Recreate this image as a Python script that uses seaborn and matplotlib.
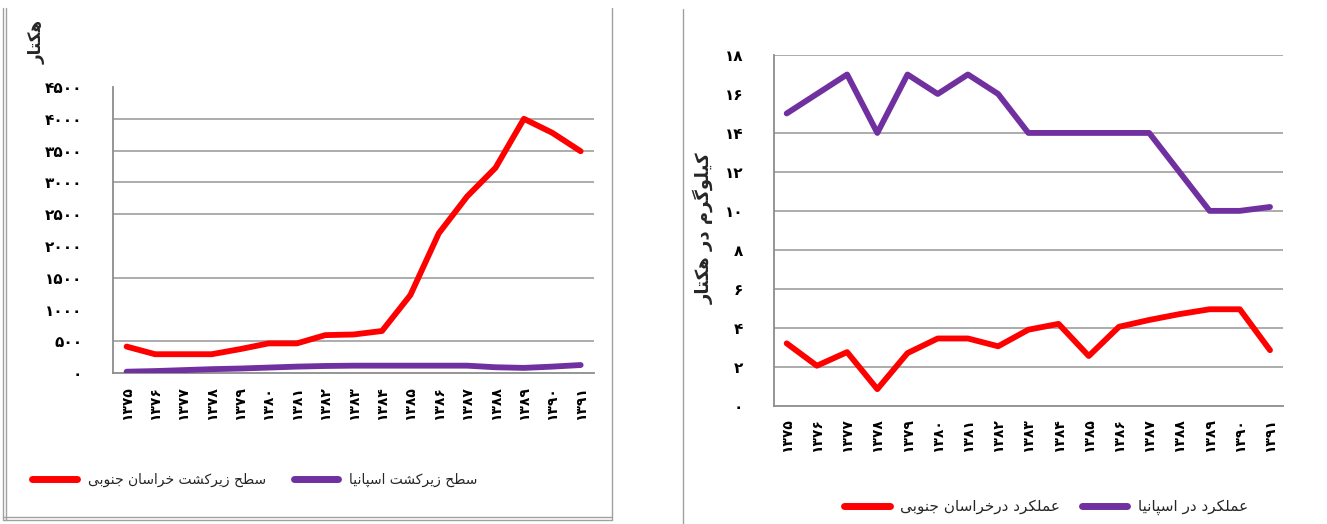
import matplotlib
matplotlib.use("Agg")
import matplotlib.pyplot as plt
import seaborn as sns
import pandas as pd
from matplotlib.lines import Line2D

# ---------------- data ----------------
years = ["۱۳۷۵", "۱۳۷۶", "۱۳۷۷", "۱۳۷۸", "۱۳۷۹", "۱۳۸۰", "۱۳۸۱", "۱۳۸۲", "۱۳۸۳",
         "۱۳۸۴", "۱۳۸۵", "۱۳۸۶", "۱۳۸۷", "۱۳۸۸", "۱۳۸۹", "۱۳۹۰", "۱۳۹۱"]

area_khorasan = [420, 300, 300, 300, 380, 470, 470, 600, 610, 665, 1230, 2200, 2780,
                 3230, 4000, 3780, 3490]
area_spain = [25, 35, 50, 65, 75, 90, 105, 115, 120, 120, 120, 120, 120, 95, 85, 105, 130]

yield_khorasan = [3.2, 2.05, 2.75, 0.85, 2.7, 3.45, 3.45, 3.05, 3.9, 4.2, 2.55, 4.05,
                  4.4, 4.7, 4.95, 4.95, 2.85]
yield_spain = [15, 16, 17, 14, 17, 16, 17, 16, 14, 14, 14, 14, 14, 12, 10, 10, 10.2]

left_ticks = [0, 500, 1000, 1500, 2000, 2500, 3000, 3500, 4000, 4500]
left_ticklabels = ["۰", "۵۰۰", "۱۰۰۰", "۱۵۰۰", "۲۰۰۰", "۲۵۰۰", "۳۰۰۰", "۳۵۰۰", "۴۰۰۰", "۴۵۰۰"]
left_grid = [500, 1500, 2500, 3000, 3500, 4000]

right_ticks = [0, 2, 4, 6, 8, 10, 12, 14, 16, 18]
right_ticklabels = ["۰", "۲", "۴", "۶", "۸", "۱۰", "۱۲", "۱۴", "۱۶", "۱۸"]
right_grid = [2, 4, 6, 8, 10, 12, 14, 18]

lbl_area_kh = "سطح زیرکشت خراسان جنوبی"
lbl_area_sp = "سطح زیرکشت اسپانیا"
lbl_yield_kh = "عملکرد درخراسان جنوبی"
lbl_yield_sp = "عملکرد در اسپانیا"
ylabel_left = "هکتار"
ylabel_right = "کیلوگرم در هکتار"

RED = "#FF0000"
PURPLE = "#7030A0"

# ---------------- minimal Persian shaping (matplotlib has no shaping) ----------------
FORMS = {
    'ا': ('\uFE8D', '\uFE8E', None, None),
    'ب': ('\uFE8F', '\uFE90', '\uFE91', '\uFE92'),
    'پ': ('\uFB56', '\uFB57', '\uFB58', '\uFB59'),
    'ت': ('\uFE95', '\uFE96', '\uFE97', '\uFE98'),
    'ج': ('\uFE9D', '\uFE9E', '\uFE9F', '\uFEA0'),
    'ح': ('\uFEA1', '\uFEA2', '\uFEA3', '\uFEA4'),
    'خ': ('\uFEA5', '\uFEA6', '\uFEA7', '\uFEA8'),
    'د': ('\uFEA9', '\uFEAA', None, None),
    'ر': ('\uFEAD', '\uFEAE', None, None),
    'ز': ('\uFEAF', '\uFEB0', None, None),
    'س': ('\uFEB1', '\uFEB2', '\uFEB3', '\uFEB4'),
    'ش': ('\uFEB5', '\uFEB6', '\uFEB7', '\uFEB8'),
    'ط': ('\uFEC1', '\uFEC2', '\uFEC3', '\uFEC4'),
    'ع': ('\uFEC9', '\uFECA', '\uFECB', '\uFECC'),
    'ک': ('\uFB8E', '\uFB8F', '\uFB90', '\uFB91'),
    'گ': ('\uFB92', '\uFB93', '\uFB94', '\uFB95'),
    'ل': ('\uFEDD', '\uFEDE', '\uFEDF', '\uFEE0'),
    'م': ('\uFEE1', '\uFEE2', '\uFEE3', '\uFEE4'),
    'ن': ('\uFEE5', '\uFEE6', '\uFEE7', '\uFEE8'),
    'ه': ('\uFEE9', '\uFEEA', '\uFEEB', '\uFEEC'),
    'و': ('\uFEED', '\uFEEE', None, None),
    'ی': ('\uFBFC', '\uFBFD', '\uFBFE', '\uFBFF'),
}


def shape(text):
    out = []
    n = len(text)
    for i, ch in enumerate(text):
        if ch not in FORMS:
            out.append(ch)
            continue
        prev = text[i - 1] if i > 0 else None
        nxt = text[i + 1] if i < n - 1 else None
        join_prev = prev in FORMS and FORMS[prev][2] is not None
        join_next = FORMS[ch][2] is not None and nxt in FORMS
        iso, fin, ini, med = FORMS[ch]
        if join_prev and join_next:
            out.append(med)
        elif join_prev:
            out.append(fin)
        elif join_next:
            out.append(ini)
        else:
            out.append(iso)
    return "".join(out)[::-1]


# ---------------- figure ----------------
sns.set_theme(style="white")
plt.rcParams['font.family'] = ['DejaVu Sans']

fig = plt.figure(figsize=(13.27, 5.24), dpi=100)

axL = fig.add_axes([113 / 1327, 1 - 373.3 / 524, (594 - 113) / 1327, (373.3 - 87) / 524])
axR = fig.add_axes([774 / 1327, 1 - 405.7 / 524, (1283 - 774) / 1327, (405.7 - 55) / 524])

idx = list(range(len(years)))
dfL = pd.DataFrame({"i": idx, "kh": area_khorasan, "sp": area_spain})
dfR = pd.DataFrame({"i": idx, "kh": yield_khorasan, "sp": yield_spain})

for ax, df, grid, ticks, tlabels, ylim, xlim in [
    (axL, dfL, left_grid, left_ticks, left_ticklabels, (0, 4500), (-0.48, 16.47)),
    (axR, dfR, right_grid, right_ticks, right_ticklabels, (0, 18), (-0.42, 16.43)),
]:
    for g in grid:
        ax.axhline(g, color="#a6a6a6", lw=1.3, zorder=0)
    sns.lineplot(data=df, x="i", y="sp", ax=ax, color=PURPLE, lw=4.2,
                 solid_capstyle="round", solid_joinstyle="round", zorder=3)
    sns.lineplot(data=df, x="i", y="kh", ax=ax, color=RED, lw=4.2,
                 solid_capstyle="round", solid_joinstyle="round", zorder=4)
    ax.set_xlim(*xlim)
    ax.set_ylim(*ylim)
    ax.set_yticks(ticks)
    ax.set_yticklabels(tlabels, fontsize=11, fontweight="bold")
    ax.set_xticks(idx)
    ax.set_xticklabels(years, rotation=90, fontsize=10, fontweight="bold")
    ax.set_xlabel("")
    ax.set_ylabel("")
    for s in ["top", "right"]:
        ax.spines[s].set_visible(False)
    for s in ["left", "bottom"]:
        ax.spines[s].set_color("#8c8c8c")
        ax.spines[s].set_linewidth(1.3)
    ax.tick_params(axis="both", length=0, colors="black")
    ax.tick_params(axis="x", pad=9)
    ax.patch.set_alpha(0)

axL.tick_params(axis="y", pad=22)
axR.tick_params(axis="y", pad=22)

# y-axis titles
fig.text(37 / 1327, 1 - 42 / 524, shape(ylabel_left), rotation=90, ha="center", va="center",
         fontsize=12, fontweight="bold")
fig.text(703 / 1327, 1 - 228 / 524, shape(ylabel_right), rotation=90, ha="center", va="center",
         fontsize=13, fontweight="bold")

# legends
hL = [Line2D([0], [0], color=RED, lw=5, solid_capstyle="round"),
      Line2D([0], [0], color=PURPLE, lw=5, solid_capstyle="round")]
fig.legend(hL, [shape(lbl_area_kh), shape(lbl_area_sp)], ncol=2, frameon=False,
           loc="center", bbox_to_anchor=(255 / 1327, 1 - 480 / 524),
           prop={"size": 10},
           handlelength=3.2, columnspacing=2.0, handletextpad=0.8)
hR = [Line2D([0], [0], color=RED, lw=5, solid_capstyle="round"),
      Line2D([0], [0], color=PURPLE, lw=5, solid_capstyle="round")]
fig.legend(hR, [shape(lbl_yield_kh), shape(lbl_yield_sp)], ncol=2, frameon=False,
           loc="center", bbox_to_anchor=(1046 / 1327, 1 - 507 / 524),
           prop={"size": 11},
           handlelength=3.0, columnspacing=1.4, handletextpad=0.7)

# panel frame lines
for x0 in [3, 6]:
    fig.add_artist(Line2D([x0 / 1327, x0 / 1327], [1 - 8 / 524, 1 - 520 / 524],
                          color="#a0a0a0", lw=1, transform=fig.transFigure))
for y0 in [517, 520]:
    fig.add_artist(Line2D([3 / 1327, 612 / 1327], [1 - y0 / 524, 1 - y0 / 524],
                          color="#a0a0a0", lw=1, transform=fig.transFigure))
fig.add_artist(Line2D([612 / 1327, 612 / 1327], [1 - 8 / 524, 1 - 520 / 524],
                      color="#a0a0a0", lw=1, transform=fig.transFigure))
fig.add_artist(Line2D([683 / 1327, 683 / 1327], [1 - 9 / 524, 1 - 524 / 524],
                      color="#a0a0a0", lw=1, transform=fig.transFigure))

fig.savefig("out.png", dpi=100, facecolor="white")
